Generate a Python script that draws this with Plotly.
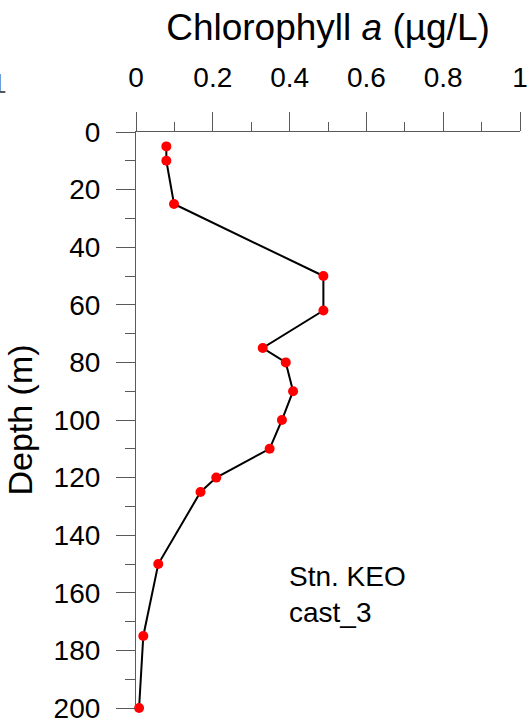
import plotly.graph_objects as go

# Chlorophyll a profile, station KEO, cast 3
depth_m = [5, 10, 25, 50, 62, 75, 80, 90, 100, 110, 120, 125, 150, 175, 200]
chl_ugL = [0.079, 0.079, 0.099, 0.488, 0.488, 0.330, 0.390, 0.409, 0.380,
           0.348, 0.209, 0.168, 0.058, 0.019, 0.008]

x_tickvals = [0, 0.2, 0.4, 0.6, 0.8, 1.0]
x_ticktext = ["0", "0.2", "0.4", "0.6", "0.8", "1"]
y_tickvals = [0, 20, 40, 60, 80, 100, 120, 140, 160, 180, 200]
y_ticktext = [str(v) for v in y_tickvals]

FONT = "Liberation Sans, Arial, Helvetica, sans-serif"
AXIS_COLOR = "#5a5a5a"

fig = go.Figure()
fig.add_trace(go.Scatter(
    x=chl_ugL,
    y=depth_m,
    mode="lines+markers",
    line=dict(color="black", width=2),
    marker=dict(color="#ff0000", size=10),
    cliponaxis=False,
    showlegend=False,
))

fig.update_xaxes(
    side="top",
    range=[0, 1],
    tickvals=x_tickvals,
    ticktext=x_ticktext,
    ticks="outside",
    ticklen=19,
    tickwidth=1.2,
    tickcolor=AXIS_COLOR,
    minor=dict(ticks="outside", ticklen=9, tickwidth=1.2, tickcolor=AXIS_COLOR,
               dtick=0.1, tick0=0, showgrid=False),
    showline=True,
    linecolor=AXIS_COLOR,
    linewidth=1.2,
    showgrid=False,
    zeroline=False,
    tickfont=dict(family=FONT, size=28, color="black"),
    ticklabelstandoff=14,
    title=dict(text="Chlorophyll <i>a</i> (µg/L)",
               font=dict(family=FONT, size=37, color="black"),
               standoff=9),
)

fig.update_yaxes(
    range=[200, 0],
    tickvals=y_tickvals,
    ticktext=y_ticktext,
    ticks="outside",
    ticklen=19,
    tickwidth=1.2,
    tickcolor=AXIS_COLOR,
    minor=dict(ticks="outside", ticklen=10, tickwidth=1.2, tickcolor=AXIS_COLOR,
               dtick=10, tick0=0, showgrid=False),
    showline=True,
    linecolor=AXIS_COLOR,
    linewidth=1.2,
    showgrid=False,
    zeroline=False,
    tickfont=dict(family=FONT, size=28, color="black"),
    ticklabelstandoff=10,
    title=dict(text="Depth (m)",
               font=dict(family=FONT, size=34, color="black"),
               standoff=10),
)

fig.add_annotation(
    x=0.394, y=160.5, xref="x", yref="y",
    text="Stn. KEO<br>cast_3",
    showarrow=False, align="left", xanchor="left", yanchor="middle",
    font=dict(family=FONT, size=28, color="black"),
)

# edge of the neighbouring panel's last tick label
fig.add_annotation(
    x=-0.331, y=1.0, xref="paper", yref="paper",
    text="1", showarrow=False, xanchor="right", yanchor="bottom", yshift=31,
    font=dict(family=FONT, size=28, color="#555555"),
)

fig.update_layout(
    width=530,
    height=727,
    margin=dict(l=136, r=10, t=132, b=19, autoexpand=False),
    paper_bgcolor="white",
    plot_bgcolor="white",
    font=dict(family=FONT),
)

fig.write_html("out.html")
